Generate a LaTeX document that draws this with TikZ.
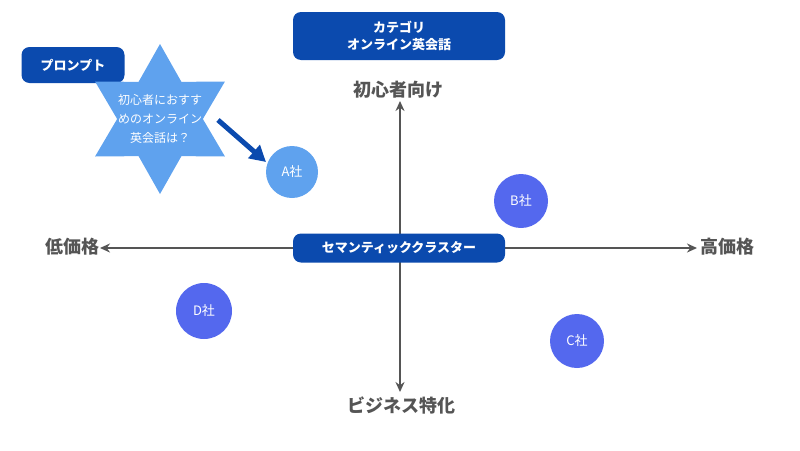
\documentclass[tikz,border=0pt]{standalone}
\usepackage{fontspec}
\setmainfont{Noto Sans CJK JP}
\usetikzlibrary{arrows.meta,positioning,shapes.geometric}
\definecolor{navy}{HTML}{0B4AAE}
\definecolor{sky}{HTML}{5FA2EE}
\definecolor{indigo}{HTML}{5468EE}
\definecolor{axis}{HTML}{555555}

\begin{document}
\begin{tikzpicture}[x=1pt,y=-1pt,>={Stealth[length=10pt,width=9pt]},
  box/.style={fill=navy,rounded corners=8pt,text=white,font=\bfseries\fontsize{13}{17}\selectfont,align=center},
  co/.style={circle,minimum size=52pt,inner sep=0pt,text=white,font=\fontsize{13}{15}\selectfont},
  ax/.style={draw=axis,line width=2.8pt,<->},
  lab/.style={text=axis,font=\bfseries\fontsize{18}{20}\selectfont}]
  \useasboundingbox (0,0) rectangle (800,450);

  \node[box,minimum width=212pt,minimum height=48pt] (title) at (399,36) {カテゴリ\\オンライン英会話};
  \node[box,minimum width=103pt,minimum height=36pt] (prompt) at (73,65) {プロンプト};

  \node[star,star points=6,star point ratio=1.75,minimum size=150pt,fill=sky,inner sep=0pt] (bubble) at (160,119) {};
  \node[text=white,align=center,font=\fontsize{12}{19}\selectfont] (q) at (bubble) {初心者におすす\\めのオンライン\\英会話は？};

  \node[co,fill=sky] (a) at (292,172) {A社};
  \node[co,fill=indigo,minimum size=54pt] (b) at (521,201) {B社};
  \node[co,fill=indigo,minimum size=54pt] (c) at (577,341) {C社};
  \node[co,fill=indigo,minimum size=56pt] (d) at (204,311) {D社};

  \coordinate (top) at (400,101);
  \coordinate (bot) at (400,392);
  \coordinate (lft) at (100,248);
  \coordinate (rgt) at (697,248);
  \draw[ax] (top) -- (bot);
  \draw[ax] (lft) -- (rgt);

  \node[lab] (l1) at (398,90) {初心者向け};
  \node[lab] (l2) at (401,405) {ビジネス特化};
  \node[lab] (l3) at (72,247) {低価格};
  \node[lab] (l4) at (727,247) {高価格};

  \node[box,minimum width=212pt,minimum height=29pt] (center) at (399,248) {セマンティッククラスター};

  \draw[navy,line width=5pt,-{Triangle[length=16pt,width=17pt]}] (218,120) -- (266,162);
\end{tikzpicture}
\end{document}
